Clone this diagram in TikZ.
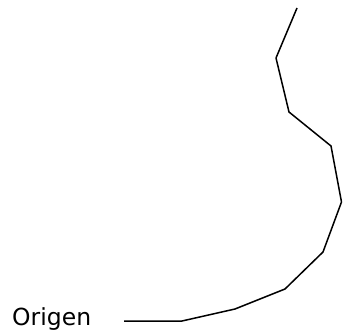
\documentclass[tikz,border=0pt]{standalone}
\usepackage{fontspec}
\setmainfont{DejaVu Sans}
\usetikzlibrary{positioning}

\begin{document}
\begin{tikzpicture}[x=1pt, y=-1pt, font=\fontsize{23.5}{26}\selectfont]
    \useasboundingbox (0,0) rectangle (343,334);
    \coordinate (p0) at (124,321);
    \coordinate (p1) at (182,321);
    \coordinate (p2) at (235,309);
    \coordinate (p3) at (285,289);
    \coordinate (p4) at (323,252);
    \coordinate (p5) at (341.5,202);
    \coordinate (p6) at (331,146);
    \coordinate (p7) at (289,112);
    \coordinate (p8) at (276,58);
    \coordinate (p9) at (297,8);
    \node[anchor=base west, inner sep=0pt] (origen) at (12,325) {Origen};
    \draw[line width=1.5pt, line join=round] (p0) -- (p1) -- (p2) -- (p3) -- (p4) -- (p5) -- (p6) -- (p7) -- (p8) -- (p9);
\end{tikzpicture}
\end{document}
